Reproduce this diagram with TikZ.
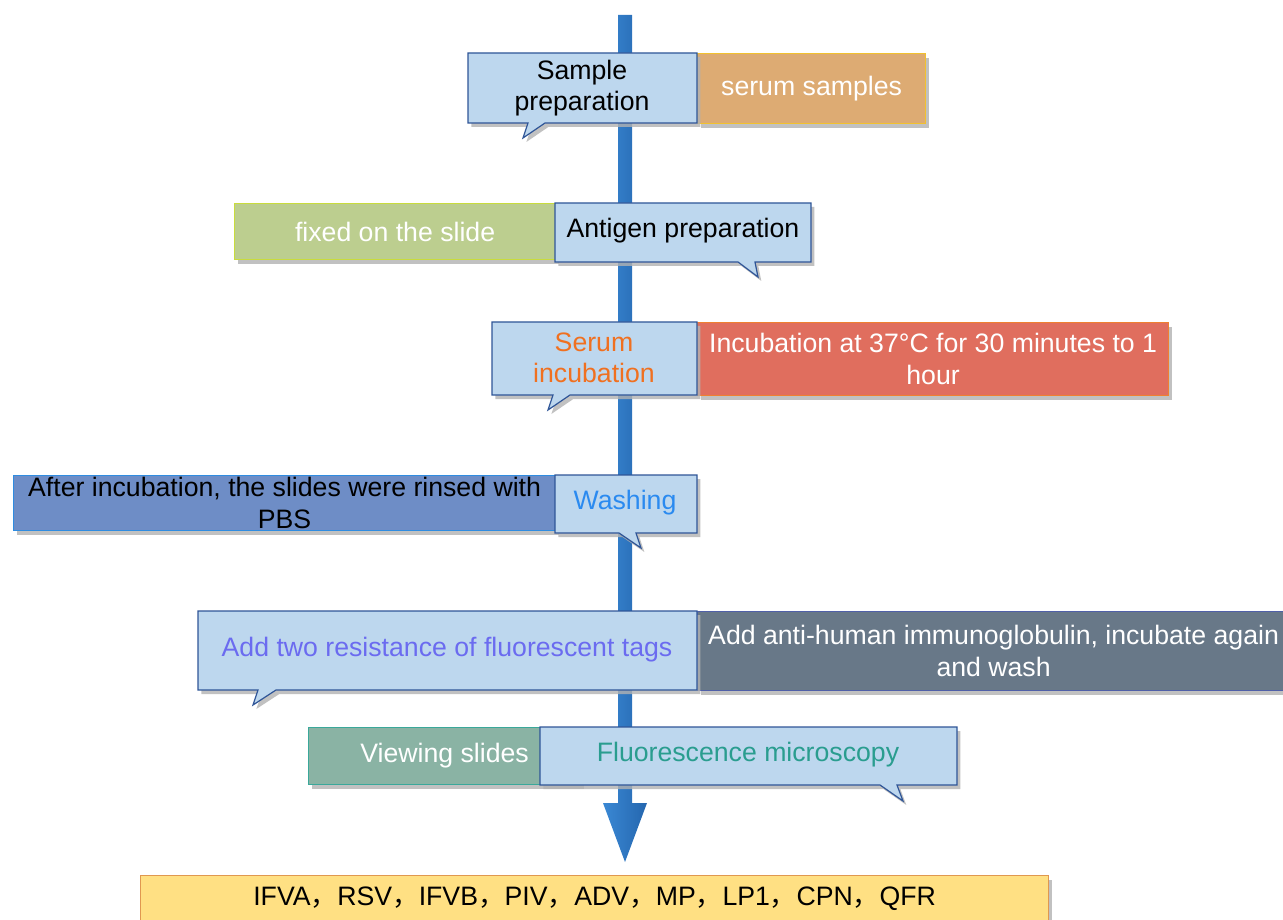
\documentclass[tikz,border=0pt]{standalone}
\usepackage{fontspec}
\setmainfont{Liberation Sans}
\newfontfamily\cjk{Noto Sans CJK SC}
\usetikzlibrary{shadows}
\definecolor{bubfill}{HTML}{BDD7EE}
\definecolor{bubline}{HTML}{2F5597}
\definecolor{tanfill}{HTML}{DDAB73}
\definecolor{tanline}{HTML}{F2C12E}
\definecolor{grnfill}{HTML}{BCCE8F}
\definecolor{grnline}{HTML}{C9DC3C}
\definecolor{redfill}{HTML}{E06E5E}
\definecolor{redline}{HTML}{F08030}
\definecolor{blufill}{HTML}{6E8DC6}
\definecolor{bluline}{HTML}{2F8CE0}
\definecolor{gryfill}{HTML}{687888}
\definecolor{gryline}{HTML}{5060A8}
\definecolor{tealfill}{HTML}{8AB3A4}
\definecolor{tealline}{HTML}{3AA89A}
\definecolor{yelfill}{HTML}{FFE083}
\definecolor{yelline}{HTML}{E09850}
\definecolor{arrL}{HTML}{3A88D4}
\definecolor{arrR}{HTML}{2466AE}
\definecolor{txtorange}{HTML}{F07020}
\definecolor{txtblue}{HTML}{2A8AF0}
\definecolor{txtlav}{HTML}{6B6BF0}
\definecolor{txtteal}{HTML}{2A9D8F}
\tikzset{
  shd/.style={drop shadow={shadow xshift=2.5pt, shadow yshift=-3pt, fill=black!30, opacity=.8}},
  bubble/.style={fill=bubfill, draw=bubline, line width=0.9pt, line join=miter, shd},
  lbl/.style={font=\fontsize{20}{23.5}\selectfont, align=center, inner sep=0pt},
  rbox/.style={rectangle, anchor=north west, inner sep=0pt, line width=0.9pt, shd,
    font=\fontsize{20}{23.5}\selectfont, align=center},
}
\begin{document}
\begin{tikzpicture}[x=0.75pt, y=-0.75pt]
\useasboundingbox (0,0) rectangle (1283,920);
\clip (0,0) rectangle (1283,920);
% central arrow
\coordinate (top) at (625,15);
\coordinate (tip) at (625,862);
\shade[left color=arrL, right color=arrR]
  (618,15) -- (632,15) -- (632,803) -- (647,803) -- (tip) -- (603,803) -- (618,803) -- cycle;

% row 1
\node[rbox, fill=tanfill, draw=tanline, text=white, minimum width=171pt, minimum height=52.5pt] (serum) at (697,53) {serum samples};
\path[bubble] (468,53) -- (697,53) -- (697,123) -- (545,123) -- (523,138) -- (528,123) -- (468,123) -- cycle;
\node[lbl] (sample) at (582,88) {Sample\\preparation};

% row 2
\node[rbox, fill=grnfill, draw=grnline, text=white, minimum width=240.75pt, minimum height=42pt] (fixed) at (234,203) {fixed on the slide};
\path[bubble] (555,203) -- (811,203) -- (811,262) -- (755,262) -- (758,277) -- (738,262) -- (555,262) -- cycle;
\node[lbl] (antigen) at (683,231) {Antigen preparation};

% row 3
\node[rbox, fill=redfill, draw=redline, text=white, minimum width=353.25pt, minimum height=54.75pt] (incub) at (697,322) {Incubation at 37°C for 30 minutes to 1\\hour};
\path[bubble] (492,322) -- (697,322) -- (697,395) -- (570,395) -- (548,410) -- (553,395) -- (492,395) -- cycle;
\node[lbl, text=txtorange] (serinc) at (594,358) {Serum\\incubation};

% row 4
\node[rbox, fill=blufill, draw=bluline, text=black, minimum width=406.5pt, minimum height=41.25pt] (rinse) at (13,475) {After incubation, the slides were rinsed with\\PBS};
\path[bubble] (555,475) -- (697,475) -- (697,533) -- (636,533) -- (641,548) -- (619,533) -- (555,533) -- cycle;
\node[lbl, text=txtblue] (wash) at (625,503) {Washing};

% row 5
\node[rbox, fill=gryfill, draw=gryline, text=white, minimum width=444pt, minimum height=59.25pt] (antihuman) at (697,611) {Add anti-human immunoglobulin, incubate again\\and wash};
\path[bubble] (198,611) -- (697,611) -- (697,690) -- (276,690) -- (253,705) -- (258,690) -- (198,690) -- cycle;
\node[lbl, text=txtlav] (addtwo) at (447,650) {Add two resistance of fluorescent tags};

% row 6
\node[rbox, fill=tealfill, draw=tealline, text=white, minimum width=204pt, minimum height=42.75pt] (viewing) at (308,727) {Viewing slides};
\path[bubble] (540,727) -- (957,727) -- (957,785) -- (897,785) -- (903,801) -- (880,785) -- (540,785) -- cycle;
\node[lbl, text=txtteal] (fluor) at (748,755) {Fluorescence microscopy};

% result
\node[rbox, fill=yelfill, draw=yelline, text=black, minimum width=681pt, minimum height=34.5pt, shd/.style={}] (result) at (140,875)
  {IFVA{\cjk ，}RSV{\cjk ，}IFVB{\cjk ，}PIV{\cjk ，}ADV{\cjk ，}MP{\cjk ，}LP1{\cjk ，}CPN{\cjk ，}QFR};
\end{tikzpicture}
\end{document}
